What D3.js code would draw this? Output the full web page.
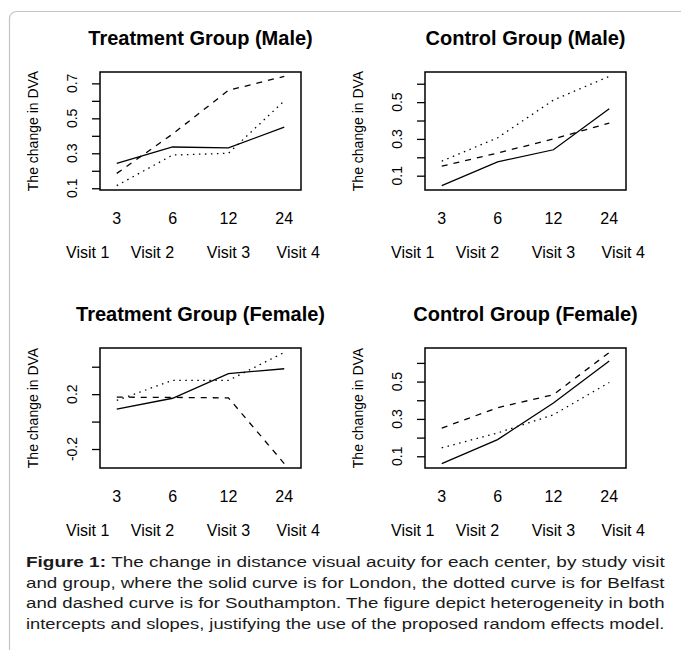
<!DOCTYPE html>
<html>
<head>
<meta charset="utf-8">
<script src="https://cdn.jsdelivr.net/npm/d3@7"></script>
<style>
  body { margin: 0; background: #fff; }
  svg { display: block; font-family: 'Liberation Sans', Arial, sans-serif; }
</style>
</head>
<body>
<div id="chart"></div>
<script>
'use strict';

// ---- data ----
const months = ['3', '6', '12', '24'];
const visits = ['Visit 1', 'Visit 2', 'Visit 3', 'Visit 4'];
const panelTitles = ['Treatment Group (Male)', 'Control Group (Male)',
  'Treatment Group (Female)', 'Control Group (Female)'];

// one row per panel, in the order of panelTitles
const london = [
  [0.242, 0.336, 0.331, 0.450],
  [0.046, 0.175, 0.241, 0.464],
  [0.091, 0.170, 0.350, 0.385],
  [0.061, 0.189, 0.385, 0.610]];
const belfast = [
  [0.115, 0.290, 0.300, 0.600],
  [0.179, 0.306, 0.511, 0.640],
  [0.155, 0.300, 0.300, 0.504],
  [0.145, 0.225, 0.322, 0.495]];
const southampton = [
  [0.185, 0.410, 0.660, 0.740],
  [0.152, 0.223, 0.300, 0.386],
  [0.178, 0.176, 0.173, -0.306],
  [0.251, 0.360, 0.430, 0.656]];

const yTicks = [
  [0.1, 0.2, 0.3, 0.4, 0.5, 0.6, 0.7],
  [0.1, 0.2, 0.3, 0.4, 0.5, 0.6],
  [-0.2, 0, 0.2, 0.4],
  [0.1, 0.2, 0.3, 0.4, 0.5, 0.6]];
const yTickLabels = [
  ['0.1', '0.3', '0.5', '0.7'],
  ['0.1', '0.3', '0.5'],
  ['-0.2', '0.2'],
  ['0.1', '0.3', '0.5']];

const yTitle = 'The change in DVA';
const captionBold = 'Figure 1:';
const captionLines = [
  'The change in distance visual acuity for each center, by study visit',
  'and group, where the solid curve is for London, the dotted curve is for Belfast',
  'and dashed curve is for Southampton. The figure depict heterogeneity in both',
  'intercepts and slopes, justifying the use of the proposed random effects model.'];

// ---- layout ----
const width = 681;
const height = 650;
const boxW = 201;
const boxes = [
  { x: 100, y: 72, h: 118 },
  { x: 425, y: 72, h: 118 },
  { x: 100, y: 348, h: 120 },
  { x: 425, y: 348, h: 120 }];
const visitAt = [0.48, 1.64, 3.0, 4.25];
const styles = [
  { key: 'london', dash: null },
  { key: 'belfast', dash: '1.5,4.5' },
  { key: 'southampton', dash: '6,6' }];

const svg = d3.select('#chart')
  .append('svg')
    .attr('width', width)
    .attr('height', height);

// outer frame of the figure (rounded, running off the right and bottom)
svg.append('rect')
  .attr('x', 9.5)
  .attr('y', 11.5)
  .attr('width', 720)
  .attr('height', 680)
  .attr('rx', 7)
  .attr('fill', 'none')
  .attr('stroke', '#c4c4c4')
  .attr('stroke-width', 1.2);

const x = d3.scaleLinear()
  .domain([0.7, 4.3])
  .range([0, boxW]);

panelTitles.forEach((title, p) => {
  const b = boxes[p];
  const series = { london: london[p], belfast: belfast[p], southampton: southampton[p] };

  // R style y range: data range padded by 4%
  const all = [].concat(london[p], belfast[p], southampton[p]);
  const lo = d3.min(all);
  const hi = d3.max(all);
  const pad = (hi - lo) * 0.04;
  const y = d3.scaleLinear()
    .domain([lo - pad, hi + pad])
    .range([b.h, 0]);

  const g = svg.append('g')
    .attr('transform', 'translate(' + b.x + ',' + b.y + ')');

  g.append('text')
    .attr('x', boxW / 2)
    .attr('y', -27)
    .attr('text-anchor', 'middle')
    .attr('font-size', 20)
    .attr('font-weight', 'bold')
    .text(title);

  // y axis: ticks at every value, labels only on some
  const yAxis = d3.axisLeft(y)
    .tickValues(yTicks[p])
    .tickSize(8)
    .tickFormat('');
  const ax = g.append('g').call(yAxis);
  ax.select('.domain').remove();
  ax.selectAll('.tick line').attr('stroke', '#000').attr('stroke-width', 1.3);

  g.selectAll('.ylab')
    .data(yTickLabels[p])
    .enter()
    .append('text')
      .attr('class', 'ylab')
      .attr('transform', d => 'translate(-23,' + y(+d) + ') rotate(-90)')
      .attr('text-anchor', 'middle')
      .attr('font-size', 14)
      .text(d => d);

  g.append('text')
    .attr('transform', 'translate(-62,' + (b.h / 2) + ') rotate(-90)')
    .attr('text-anchor', 'middle')
    .attr('font-size', 14)
    .text(yTitle);

  // x labels are plain text under the box, no axis line
  g.selectAll('.mlab')
    .data(months)
    .enter()
    .append('text')
      .attr('class', 'mlab')
      .attr('x', (d, i) => x(i + 1))
      .attr('y', b.h + 34)
      .attr('text-anchor', 'middle')
      .attr('font-size', 16)
      .text(d => d);

  g.selectAll('.vlab')
    .data(visits)
    .enter()
    .append('text')
      .attr('class', 'vlab')
      .attr('x', (d, i) => x(visitAt[i]))
      .attr('y', b.h + 68)
      .attr('text-anchor', 'middle')
      .attr('font-size', 16)
      .text(d => d);

  const line = d3.line()
    .x((d, i) => x(i + 1))
    .y(d => y(d));

  g.selectAll('.curve')
    .data(styles)
    .enter()
    .append('path')
      .attr('class', 'curve')
      .attr('d', s => line(series[s.key]))
      .attr('fill', 'none')
      .attr('stroke', '#000')
      .attr('stroke-width', 1.3)
      .attr('stroke-dasharray', s => s.dash);

  g.append('rect')
    .attr('width', boxW)
    .attr('height', b.h)
    .attr('fill', 'none')
    .attr('stroke', '#000')
    .attr('stroke-width', 1.5);
});

// caption: each line stretched to run from x=26 to x=665
const capLeft = 26;
const capRight = 665;
captionLines.forEach((txt, i) => {
  const lineG = svg.append('g');
  const t = lineG.append('text')
    .attr('x', 0)
    .attr('y', 0)
    .attr('font-size', 14.5)
    .attr('fill', '#1a1a1a');
  if (i === 0) {
    t.append('tspan').attr('font-weight', 'bold').text(captionBold + ' ');
  }
  t.append('tspan').text(txt);
  const natural = t.node().getComputedTextLength();
  const sx = (capRight - capLeft) / natural;
  lineG.attr('transform', 'translate(' + capLeft + ',' + (567 + i * 20.7) + ') scale(' + sx + ',1)');
});
</script>
</body>
</html>
